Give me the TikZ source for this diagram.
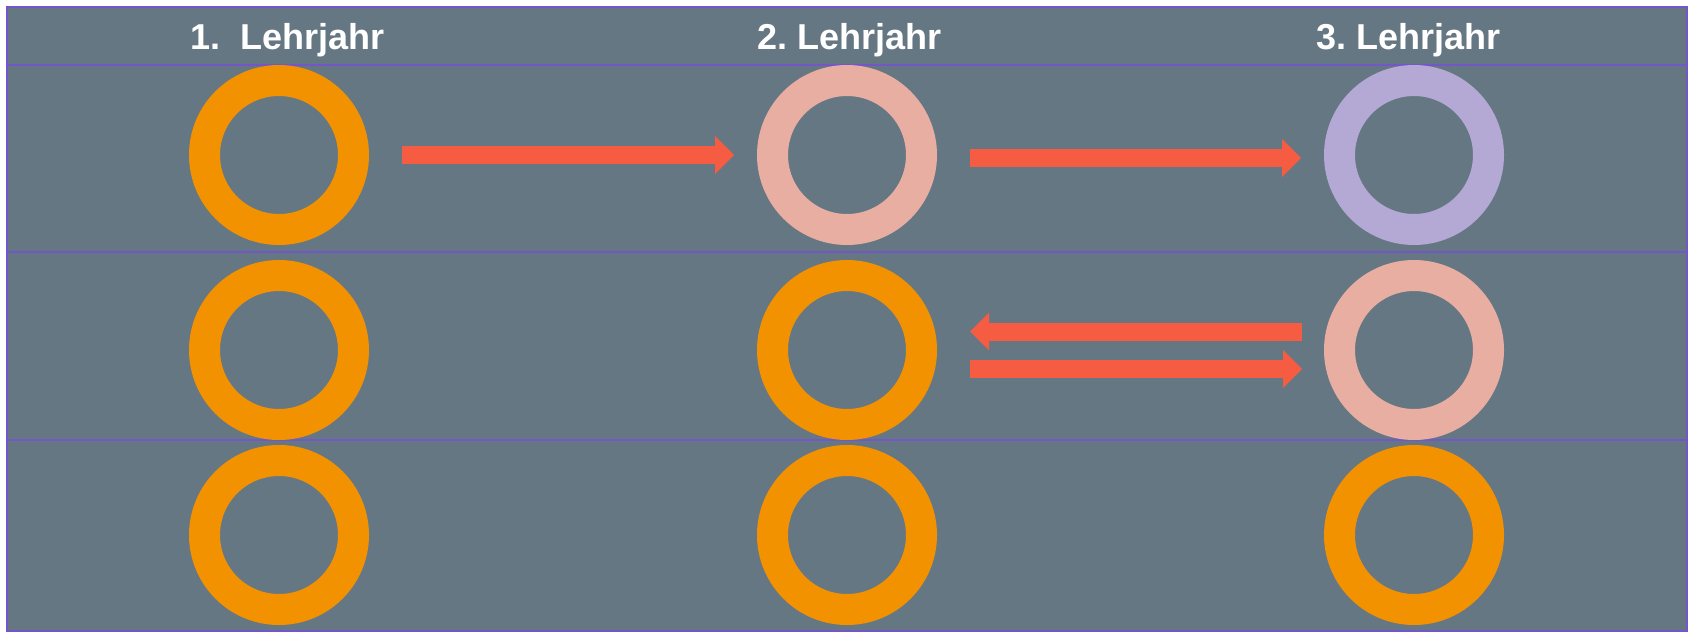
\documentclass[tikz,border=0pt]{standalone}
\usepackage{fontspec}
\setmainfont{Liberation Sans}
\usetikzlibrary{arrows.meta}
\definecolor{bg}{HTML}{667784}
\definecolor{frame}{HTML}{7356C8}
\definecolor{ringO}{HTML}{F39200}
\definecolor{ringP}{HTML}{E8AEA2}
\definecolor{ringL}{HTML}{B4A8D4}
\definecolor{arr}{HTML}{F65C42}
\tikzset{
  ring/.style={circle,draw=#1,line width=31pt,minimum size=149pt,inner sep=0pt},
  blockarrow/.style={draw=arr,line width=18pt,-{Triangle[length=19pt,width=38pt,line width=0pt,fill=arr]}},
  head/.style={text=white,font=\bfseries\fontsize{36pt}{40pt}\selectfont,anchor=base west,inner sep=0pt},
  gridline/.style={draw=frame,line width=1.5pt}
}
\begin{document}\frenchspacing
\begin{tikzpicture}[x=1pt,y=-1pt]
\useasboundingbox (0,0) rectangle (1690,632);
\fill[bg] (7,7) rectangle (1687,631);
\draw[gridline] (7,65) -- (1687,65);
\draw[gridline] (7,252) -- (1687,252);
\draw[gridline] (7,440) -- (1687,440);
\draw[gridline] (7,7) rectangle (1687,631);
\node[head] (t1) at (190,49) {1.\ \ Lehrjahr};
\node[head] (t2) at (757,49) {2. Lehrjahr};
\node[head] (t3) at (1316,49) {3. Lehrjahr};
\node[ring=ringO] (a1) at (279,155) {};
\node[ring=ringP] (a2) at (847,155) {};
\node[ring=ringL] (a3) at (1414,155) {};
\node[ring=ringO] (b1) at (279,350) {};
\node[ring=ringO] (b2) at (847,350) {};
\node[ring=ringP] (b3) at (1414,350) {};
\node[ring=ringO] (c1) at (279,535) {};
\node[ring=ringO] (c2) at (847,535) {};
\node[ring=ringO] (c3) at (1414,535) {};
\draw[blockarrow] ([xshift=33pt]a1.east) -- ([xshift=-23pt]a2.west);
\draw[blockarrow] ([xshift=33pt,yshift=-3pt]a2.east) -- ([xshift=-23pt,yshift=-3pt]a3.west);
\draw[blockarrow] ([xshift=-22pt,yshift=18.5pt]b3.west) -- ([xshift=33pt,yshift=18.5pt]b2.east);
\draw[blockarrow] ([xshift=33pt,yshift=-19pt]b2.east) -- ([xshift=-22pt,yshift=-19pt]b3.west);
\end{tikzpicture}
\end{document}
